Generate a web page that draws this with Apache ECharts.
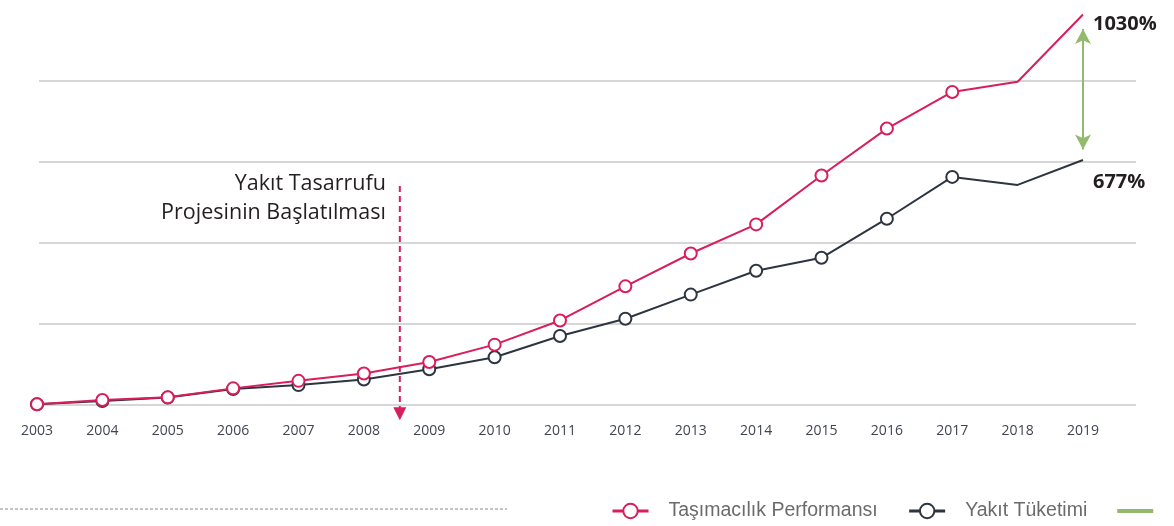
<!DOCTYPE html>
<html><head><meta charset="utf-8">
<script src="https://cdn.jsdelivr.net/npm/echarts@6/dist/echarts.min.js"></script>
<style>html,body{margin:0;padding:0;background:#fff}#c{width:1174px;height:526px}</style>
</head><body><div id="c"></div>
<script>
// ---- data ----
const years = ['2003','2004','2005','2006','2007','2008','2009','2010','2011','2012','2013','2014','2015','2016','2017','2018','2019'];
const tasimacilik = [0, 10.6, 17.2, 39.4, 58, 76.3, 104.8, 147.6, 207.4, 291.8, 373, 445, 566, 682, 772.5, 797.8, 964];
const yakit = [0, 8, 16.7, 37.6, 47.5, 61.5, 86.8, 116.4, 168.8, 211.6, 271.3, 330.4, 362.4, 459, 562.4, 542.7, 604.2];
const endLabels = ['1030%', '677%'];
const seriesNames = ['Taşımacılık Performansı', 'Yakıt Tüketimi', 'Fark'];
const gapArrow = [928, 630];          // green double arrow ends (value units) at the last year
const noMarkerFrom = 15;              // index from which points have no marker
const projectStart = { from: '2008', to: '2009', fraction: 0.55 };
const annotation = ['Yakıt Tasarrufu', 'Projesinin Başlatılması'];

const RED = '#d81e5b', DARK = '#2c3541', GREEN = '#92ba6c';

function pts(arr) {
  return arr.map((v, i) => i >= noMarkerFrom ? { value: v, symbol: 'none' } : v);
}

const chart = echarts.init(document.getElementById('c'), null, { renderer: 'canvas' });
const option = {
  animation: false,
  backgroundColor: '#fff',
  grid: [
    { left: 37, right: 91, top: -2, bottom: 121.7 },
    { left: 39, right: 38, top: -2, bottom: 121.7 }
  ],
  xAxis: [
    { type: 'category', data: years, boundaryGap: false, gridIndex: 0,
      axisLine: { show: false }, axisTick: { show: false },
      axisLabel: { fontFamily: 'Open Sans', fontSize: 14, color: '#3f4651', margin: 20 } },
    { type: 'value', gridIndex: 1, show: false, min: 0, max: 1 }
  ],
  yAxis: [
    { type: 'value', gridIndex: 0, min: 0, max: 1000, interval: 200, show: false },
    { type: 'value', gridIndex: 1, min: 0, max: 1000, interval: 200,
      axisLine: { show: false }, axisTick: { show: false }, axisLabel: { show: false },
      splitLine: { show: true, showMaxLine: false, lineStyle: { color: '#c9c9c9', width: 1.5 } } }
  ],
  legend: {
    data: [
      { name: seriesNames[0] },
      { name: seriesNames[1] },
      { name: seriesNames[2], icon: 'path://M0,0h36v4h-36z' }
    ],
    left: 611, top: 501, width: 800, padding: 0,
    itemWidth: 36, itemHeight: 18, itemGap: 30,
    lineStyle: { width: 3 },
    textStyle: { fontFamily: 'Liberation Sans', fontSize: 19.5, color: '#6b6b6b', padding: [0, 0, 0, 15] }
  },
  series: [
    { name: seriesNames[1], type: 'line', data: pts(yakit), xAxisIndex: 0, yAxisIndex: 0,
      symbol: 'emptyCircle', symbolSize: 12, z: 3,
      lineStyle: { color: DARK, width: 2 }, itemStyle: { color: DARK, borderWidth: 2 },
      endLabel: { show: true, formatter: endLabels[1], fontFamily: 'Open Sans', fontWeight: 'bold',
        fontSize: 20, color: '#231f20', offset: [2, 22] } },
    { name: seriesNames[0], type: 'line', data: pts(tasimacilik), xAxisIndex: 0, yAxisIndex: 0,
      symbol: 'emptyCircle', symbolSize: 12, z: 4,
      lineStyle: { color: RED, width: 2 }, itemStyle: { color: RED, borderWidth: 2 },
      endLabel: { show: true, formatter: endLabels[0], fontFamily: 'Open Sans', fontWeight: 'bold',
        fontSize: 20, color: '#231f20', offset: [2, 10] } },
    { name: seriesNames[2], type: 'line', data: [], xAxisIndex: 0, yAxisIndex: 0, symbol: 'none',
      lineStyle: { color: GREEN, width: 4 }, itemStyle: { color: GREEN },
      markLine: { silent: true, symbol: ['arrow', 'arrow'], symbolSize: [12, 15],
        label: { show: false }, lineStyle: { color: GREEN, width: 2, type: 'solid' },
        data: [[{ coord: [years[years.length - 1], gapArrow[0]] }, { coord: [years[years.length - 1], gapArrow[1]] }]] } }
  ]
};
chart.setOption(option);

// annotation: project start marker between two years
const xa = chart.convertToPixel({ xAxisIndex: 0 }, projectStart.from);
const xb = chart.convertToPixel({ xAxisIndex: 0 }, projectStart.to);
const xm = xa + projectStart.fraction * (xb - xa);
const y0 = chart.convertToPixel({ yAxisIndex: 0 }, 0);
chart.setOption({
  graphic: [
    { type: 'line', shape: { x1: xm, y1: 186, x2: xm, y2: y0 + 4 },
      style: { stroke: RED, lineWidth: 2, lineDash: [6, 4] }, z: 10 },
    { type: 'polygon', shape: { points: [[xm - 6.5, y0 + 3], [xm + 6.5, y0 + 3], [xm, y0 + 16]] },
      style: { fill: RED }, z: 10 },
    { type: 'text', x: xm - 14, y: 184, style: { text: annotation[0], align: 'right', verticalAlign: 'middle',
      font: '21.5px "Open Sans"', fill: '#231f20' } },
    { type: 'text', x: xm - 14, y: 213, style: { text: annotation[1], align: 'right', verticalAlign: 'middle',
      font: '21.5px "Open Sans"', fill: '#231f20' } },
    { type: 'line', shape: { x1: 0, y1: 509, x2: 507, y2: 509 },
      style: { stroke: '#8a8a8a', lineWidth: 1, lineDash: [3, 2] } }
  ]
});
</script></body></html>
